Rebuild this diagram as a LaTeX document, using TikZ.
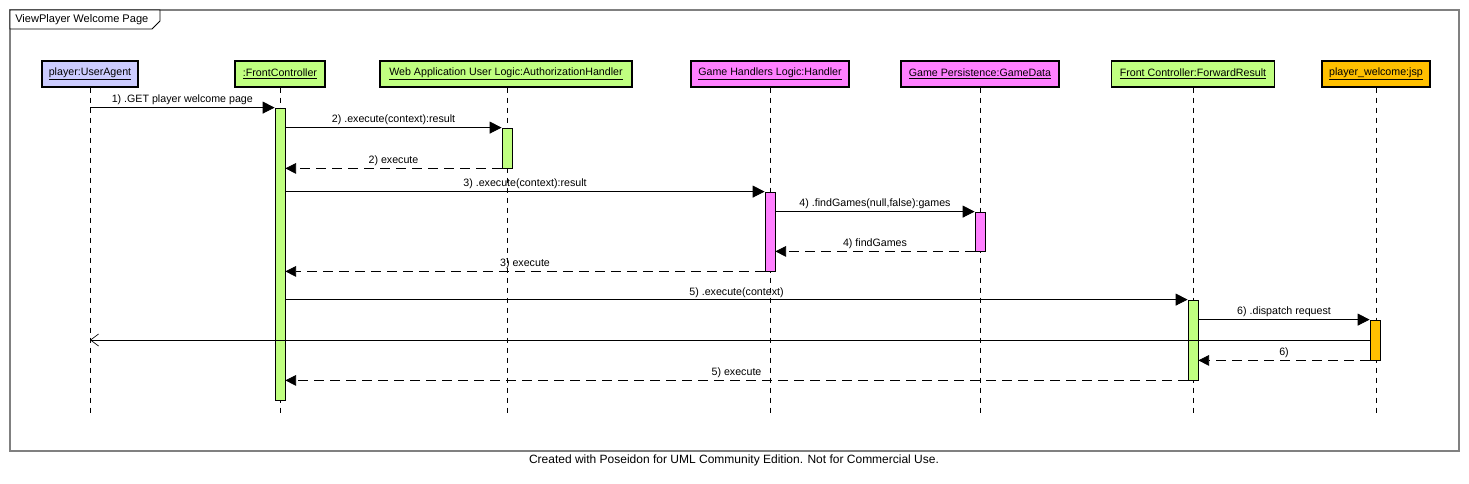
\documentclass[tikz,border=0pt]{standalone}
\usepackage{fontspec}
\setmainfont{Liberation Sans}
\usetikzlibrary{arrows.meta}
\definecolor{uacol}{RGB}{204,204,255}
\definecolor{grn}{RGB}{192,255,128}
\definecolor{pnk}{RGB}{255,128,255}
\definecolor{org}{RGB}{255,192,0}
\definecolor{frm}{RGB}{128,128,128}
\begin{document}
\begin{tikzpicture}[x=0.75pt,y=-0.75pt,
  font=\fontsize{8}{9.6}\selectfont,
  head/.style={draw=black, line width=0.8pt, minimum height=19.5pt, inner sep=1pt, anchor=center},
  act/.style={draw=black, line width=0.6pt, minimum width=7.5pt, inner sep=0pt},
  lifeline/.style={draw=black, line width=0.6pt, dash pattern=on 3.75pt off 3.75pt},
  msg/.style={draw=black, line width=0.6pt, -{Triangle[length=9pt,width=9pt]}},
  ret/.style={draw=black, line width=0.6pt, dash pattern=on 7pt off 5pt, -{Triangle[length=8pt,width=8pt]}},
  reply/.style={draw=black, line width=0.6pt, -{Straight Barb[length=6pt,width=9pt,line width=0.5pt]}},
  lbl/.style={above, inner sep=1.5pt, midway}]
\useasboundingbox (0,0) rectangle (1469,483);
% frame
\draw[frm, line width=0.8pt] (10,10) rectangle (1459,451);
\draw[black, line width=0.6pt, fill=white] (10,10) -- (160,10) -- (160,21) -- (152,29) -- (10,29) -- cycle;
\node[anchor=west, inner sep=0pt, font=\fontsize{8.3}{10}\selectfont] (title) at (15,19.5) {ViewPlayer Welcome Page};
% heads
\node[head, fill=uacol, minimum width=72pt] (ua) at (90,74) {\underline{player:UserAgent}};
\node[head, fill=grn, minimum width=67.5pt] (fc) at (280,74) {\underline{:FrontController}};
\node[head, fill=grn, minimum width=189pt] (auth) at (506,74) {\underline{Web Application User Logic:AuthorizationHandler}};
\node[head, fill=pnk, minimum width=118.5pt] (hdl) at (770,74) {\underline{Game Handlers Logic:Handler}};
\node[head, fill=pnk, minimum width=118.5pt] (gd) at (980,74) {\underline{Game Persistence:GameData}};
\node[head, fill=grn, minimum width=122.25pt] (fr) at (1193,74) {\underline{Front Controller:ForwardResult}};
\node[head, fill=org, minimum width=81pt] (jsp) at (1376,74) {\underline{player\_welcome:jsp}};
% lifeline ends
\coordinate (uaE) at (90,415);
\coordinate (fcE) at (280,415);
\coordinate (authE) at (507,415);
\coordinate (hdlE) at (770,415);
\coordinate (gdE) at (980,415);
\coordinate (frE) at (1193,415);
\coordinate (jspE) at (1376,415);
\draw[lifeline] (ua.south) -- (uaE);
\draw[lifeline] (fc.south -| fcE) -- (fcE);
\draw[lifeline] (auth.south -| authE) -- (authE);
\draw[lifeline] (hdl.south) -- (hdlE);
\draw[lifeline] (gd.south) -- (gdE);
\draw[lifeline] (fr.south -| frE) -- (frE);
\draw[lifeline] (jsp.south) -- (jspE);
% activations
\node[act, fill=grn, minimum height=219pt] (afc) at (280,254) {};
\node[act, fill=grn, minimum height=30pt] (aauth) at (507,148) {};
\node[act, fill=pnk, minimum height=59.25pt] (ahdl) at (770,231.5) {};
\node[act, fill=pnk, minimum height=29.25pt] (agd) at (980,231.5) {};
\node[act, fill=grn, minimum height=60pt] (afr) at (1193,340) {};
\node[act, fill=org, minimum height=30pt] (ajsp) at (1375,340) {};
% messages
\draw[msg] (ua.south |- afc.north) -- node[lbl] {1) .GET player welcome page} (afc.north west);
\draw[msg] (afc.east |- aauth.north) -- node[lbl] {2) .execute(context):result} (aauth.north west);
\draw[ret] (aauth.south west) -- node[lbl] {2) execute} (afc.east |- aauth.south);
\draw[msg] (afc.east |- ahdl.north) -- node[lbl] {3) .execute(context):result} (ahdl.north west);
\draw[msg] (ahdl.east |- agd.north) -- node[lbl] {4) .findGames(null,false):games} (agd.north west);
\draw[ret] (agd.south west) -- node[lbl] {4) findGames} (ahdl.east |- agd.south);
\draw[ret] (ahdl.south west) -- node[lbl] {3) execute} (afc.east |- ahdl.south);
\draw[msg] (afc.east |- afr.north) -- node[lbl] {5) .execute(context)} (afr.north west);
\draw[msg] (afr.east |- ajsp.north) -- node[lbl] {6) .dispatch request} (ajsp.north west);
\draw[reply] (ajsp.west) -- (ua.south |- ajsp.west);
\draw[ret] (ajsp.south west) -- node[lbl] {6)} (afr.east |- ajsp.south);
\draw[ret] (afr.south west) -- node[lbl] {5) execute} (afc.east |- afr.south);
% footer
\node[font=\fontsize{9}{11}\selectfont] (footer) at (734,460) {Created with Poseidon for UML Community Edition. Not for Commercial Use.};
\end{tikzpicture}
\end{document}
